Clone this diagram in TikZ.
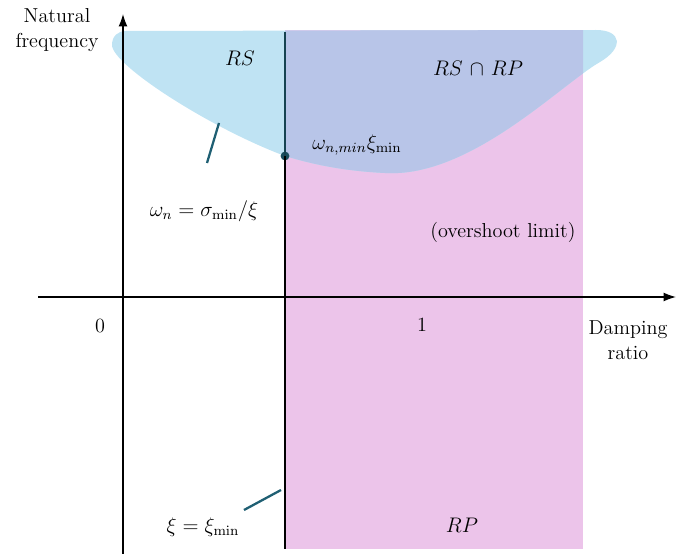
\documentclass[tikz,border=0pt]{standalone}
\usepackage{tikz}
\usetikzlibrary{arrows.meta,positioning,calc}

\definecolor{rsblue}{HTML}{BFE3F3}
\definecolor{rppink}{HTML}{ECC4EA}
\definecolor{rsrp}{HTML}{B8C5E8}
\definecolor{leadteal}{HTML}{1F5F73}

\begin{document}
\begin{tikzpicture}[
  x=0.02cm, y=-0.02cm,
  lbl/.style={font=\fontsize{11.5}{14}\selectfont, inner sep=1pt},
  axis/.style={-{Latex[length=7pt,width=5pt]}, line width=0.7pt},
  lead/.style={leadteal, line width=1.3pt}
]
\useasboundingbox (0,0) rectangle (686,554);

% regions
\fill[rppink] (285,30) rectangle (583,549);
\def\blob{(126,31) -- (596,30) .. controls (622,30) and (624,48) .. (600,62)
  .. controls (560,85) and (470,178) .. (385,173)
  .. controls (345,171) and (315,165) .. (285,156)
  .. controls (210,128) and (112,65) .. (112,45)
  .. controls (112,36) and (118,31) .. (126,31) -- cycle}
\fill[rsblue] \blob;
\begin{scope}
  \clip (285,30) rectangle (583,549);
  \fill[rsrp] \blob;
\end{scope}

% axes
\coordinate (yb) at (123,554);
\coordinate (yt) at (123,14);
\coordinate (xl) at (38,297);
\coordinate (xr) at (676,297);
\draw[axis] (yb) -- (yt);
\draw[axis] (xl) -- (xr);

% xi = xi_min line
\coordinate (ltop) at (285,32);
\coordinate (lbot) at (285,549);
\node[circle, fill=leadteal!80!black, inner sep=0pt, minimum size=5pt] (wmin) at (285,156) {};
\draw[line width=1.2pt, leadteal!70!black] (ltop) -- (wmin.center);
\draw[line width=1.7pt] (wmin.center) -- (lbot);

% labels
\node[lbl, align=center] (yname) at (57,30) {Natural\\frequency};
\node[lbl, align=center] (xname) at (628,340) {Damping\\ratio};
\node[lbl] (zero) at (100,326) {0};
\node[lbl] (one) at (422,325) {1};
\node[lbl] (rs) at (240,58) {$RS$};
\node[lbl] (rsrplbl) at (478,68) {$RS\mkern2mu\cap\mkern2mu RP$};
\node[lbl] (wnmin) at (357,145) {$\omega_{n,min}\xi_{\min}$};
\node[lbl] (sigma) at (204,211) {$\omega_n=\sigma_{\min}/\xi$};
\node[lbl] (over) at (503,232) {(overshoot limit)};
\node[lbl] (ximin) at (203,527) {$\xi=\xi_{\min}$};
\node[lbl] (rp) at (462,525) {$RP$};

% leaders
\coordinate (s1) at (219,123);
\coordinate (s2) at (207,163);
\coordinate (x1) at (244,510);
\coordinate (x2) at (281,490);
\draw[lead] (s1) -- (s2);
\draw[lead] (x1) -- (x2);

\end{tikzpicture}
\end{document}
